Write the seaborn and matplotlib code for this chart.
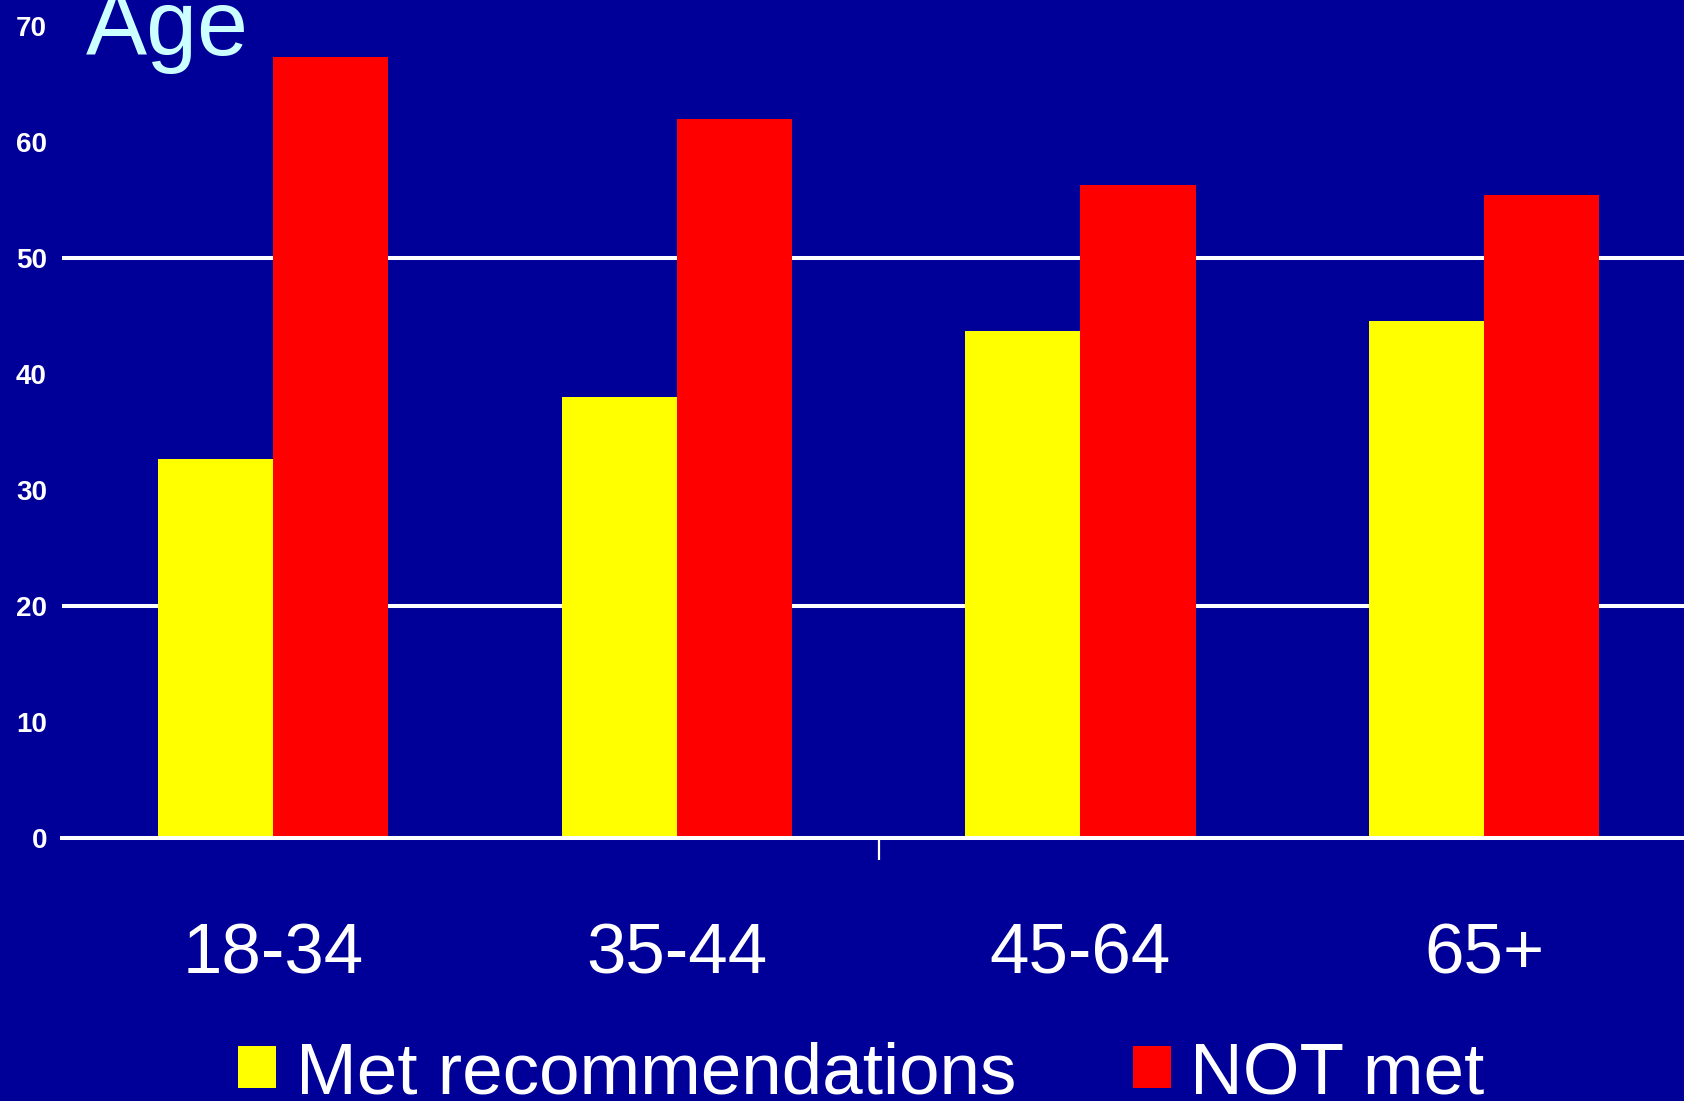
import matplotlib
matplotlib.use("Agg")
import matplotlib.pyplot as plt
import seaborn as sns
import pandas as pd

# ---- data ----
age_groups = ["18-34", "35-44", "45-64", "65+"]
series_names = ["Met recommendations", "NOT met"]
met_values = [32.7, 38.0, 43.7, 44.6]
not_met_values = [67.3, 62.0, 56.3, 55.4]
y_ticks = [0, 10, 20, 30, 40, 50, 60, 70]
grid_levels = [20, 50]
title_text = "Age"

BG = "#000099"
YELLOW = "#FFFF00"
RED = "#FF0000"
TITLE_C = "#CCFFFF"

df = pd.DataFrame({
    "age": age_groups * 2,
    "value": met_values + not_met_values,
    "group": [series_names[0]] * len(age_groups) + [series_names[1]] * len(age_groups),
})

sns.set_theme(style="white")
plt.rcParams["font.family"] = ["Liberation Sans", "DejaVu Sans"]

W, H = 1684, 1101
fig = plt.figure(figsize=(W / 100, H / 100), dpi=100)
fig.patch.set_facecolor(BG)

ax_left = 62 / W
ax_bottom = (H - 838) / H
ax = fig.add_axes([ax_left, ax_bottom, 1 - ax_left, 838 / H])
ax.set_facecolor(BG)

sns.barplot(data=df, x="age", y="value", hue="group", order=age_groups,
            hue_order=series_names, palette=[YELLOW, RED], saturation=1,
            width=0.57, gap=0, linewidth=0, ax=ax, zorder=3)

ax.set_ylim(0, 838 / 11.6)
ax.set_xlim(-0.523, 3.495)

for g in grid_levels:
    ax.axhline(g, color="white", lw=2.9, zorder=1)

for s in ["left", "right", "top"]:
    ax.spines[s].set_visible(False)
ax.spines["bottom"].set_color("white")
ax.spines["bottom"].set_linewidth(2.9)
ax.spines["bottom"].set_zorder(4)

ax.set_yticks(y_ticks)
ax.set_yticklabels([str(v) for v in y_ticks])
ax.tick_params(axis="y", length=0, pad=10.8, labelsize=20, labelcolor="white")
for lbl in ax.get_yticklabels():
    lbl.set_fontweight("bold")

ax.set_xticks(range(len(age_groups)))
ax.set_xticklabels(age_groups)
ax.tick_params(axis="x", which="major", length=0, pad=61, labelsize=51, labelcolor="white")
ax.set_xticks([1.5], minor=True)
ax.tick_params(axis="x", which="minor", length=16, width=1.6, color="white",
               direction="out", bottom=True)

ax.set_xlabel("")
ax.set_ylabel("")

handles, labels = ax.get_legend_handles_labels()
if ax.get_legend() is not None:
    ax.get_legend().remove()
leg = fig.legend(handles, labels, loc="upper left",
                 bbox_to_anchor=(238 / W, (H - 1041) / H),
                 ncol=2, frameon=False, fontsize=52.5,
                 handlelength=0.52, handleheight=0.52, handletextpad=0.27,
                 columnspacing=1.6, borderpad=0, borderaxespad=0)
for t in leg.get_texts():
    t.set_color("white")

fig.text(86 / W, (H - 55) / H, title_text, color=TITLE_C, fontsize=66,
         ha="left", va="baseline")

fig.savefig("out.png", dpi=100, facecolor=BG)
